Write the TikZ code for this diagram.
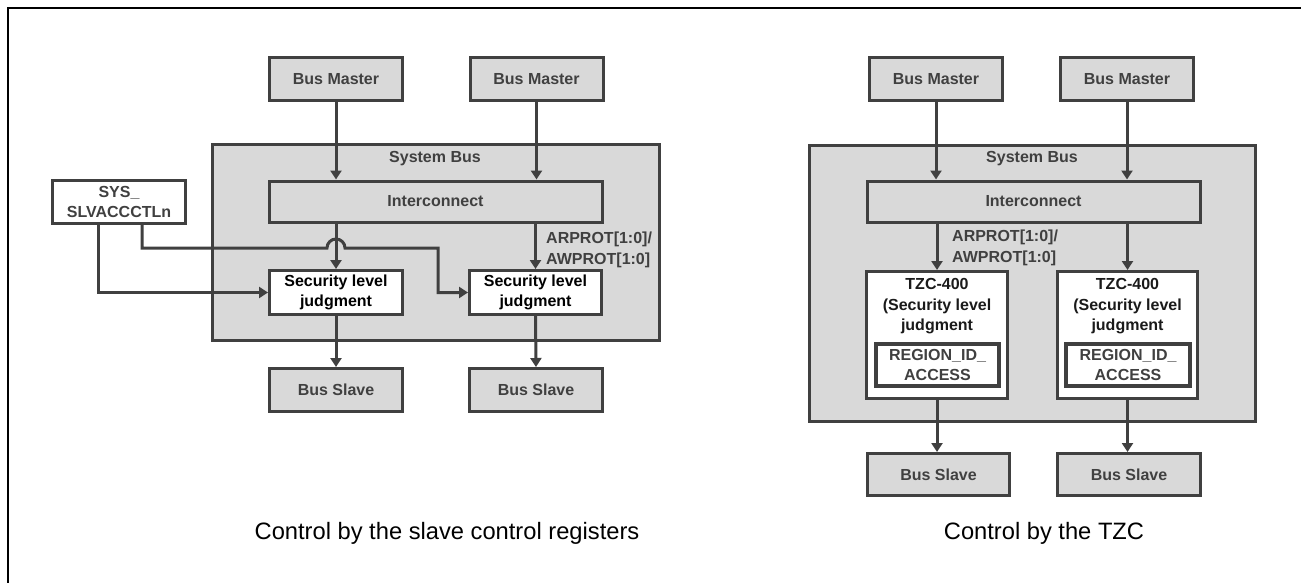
\documentclass[tikz,border=0pt]{standalone}
\usepackage{fontspec}
\setmainfont{Liberation Sans}
\usetikzlibrary{arrows.meta,calc}
\definecolor{boxfill}{HTML}{D9D9D9}
\definecolor{edge}{HTML}{404040}
\definecolor{graytext}{HTML}{404040}
\definecolor{darktext}{HTML}{1A1A1A}
\tikzset{
  boxtext/.style={font=\fontsize{16}{20.5}\selectfont\bfseries},
  graybox/.style={draw=edge, line width=3pt, fill=boxfill, rectangle, inner sep=0pt, text=graytext, boxtext, align=center},
  whitebox/.style={draw=edge, line width=3pt, fill=white, rectangle, inner sep=0pt, text=black, boxtext, align=center},
  busarea/.style={draw=edge, line width=3pt, fill=boxfill},
  arr/.style={draw=edge, line width=3pt, -{Triangle[width=11pt,length=9pt]}},
  plainline/.style={draw=edge, line width=3pt},
  lbl/.style={text=graytext, boxtext, inner sep=0pt},
  caption/.style={font=\fontsize{23.7}{28}\selectfont, text=black, inner sep=0pt}
}
\begin{document}
\begin{tikzpicture}[x=1pt,y=-1pt]
\useasboundingbox (0,0) rectangle (1301,583);
\fill[white] (0,0) rectangle (1301,583);
% frame (top and left edges)
\draw[line width=2.2pt, black] (7.8,583) -- (7.8,7.8) -- (1301,7.8);

% ================= LEFT DIAGRAM =================
\draw[busarea] (212.5,144.5) rectangle (659.5,340.5);
\node[lbl] (sbL) at (435,159) {System Bus};
\node[graybox, minimum width=133pt, minimum height=43pt] (bm1) at (336,79) {Bus Master};
\node[graybox, minimum width=133pt, minimum height=43pt] (bm2) at (536.5,79) {Bus Master};
\node[graybox, minimum width=333pt, minimum height=41pt] (icL) at (435.5,201.5) {Interconnect};
\node[whitebox, minimum width=133pt, minimum height=44pt] (slj1) at (336,292.5) {Security level\\judgment};
\node[whitebox, minimum width=132pt, minimum height=44pt] (slj2) at (535.5,292.5) {Security level\\judgment};
\node[graybox, minimum width=133pt, minimum height=43pt] (bs1) at (336,390) {Bus Slave};
\node[graybox, minimum width=133pt, minimum height=43pt] (bs2) at (536,390) {Bus Slave};
\node[whitebox, text=graytext, minimum width=133pt, minimum height=43pt] (sys) at (119,202) {SYS\_\\SLVACCCTLn};

\draw[arr] (bm1.south) -- (bm1.south |- icL.north);
\draw[arr] (bm2.south) -- (bm2.south |- icL.north);
\draw[arr] (icL.south -| slj1.north) -- (slj1.north);
\draw[arr] (icL.south -| slj2.north) -- (slj2.north);
\draw[arr] (slj1.south) -- (bs1.north);
\draw[arr] (slj2.south) -- (bs2.north);

\coordinate (s1) at (98,224);
\coordinate (s2) at (142,224);
\coordinate (h1) at (327,248);
\coordinate (t2) at (438,248);
\draw[arr] (s1) |- (slj1.west);
\draw[arr] (s2) |- (h1) arc[start angle=180, end angle=0, radius=9pt] -- (t2) |- (slj2.west);

\node[lbl, anchor=west, align=left] (apL) at (546,250) {ARPROT[1:0]/\\AWPROT[1:0]};

\node[caption, anchor=base] (capL) at (447,539) {Control by the slave control registers};

% ================= RIGHT DIAGRAM =================
\draw[busarea] (809.5,145.5) rectangle (1255.5,421.5);
\node[lbl] (sbR) at (1032,159) {System Bus};
\node[graybox, minimum width=133pt, minimum height=43pt] (bm3) at (936,79) {Bus Master};
\node[graybox, minimum width=133pt, minimum height=43pt] (bm4) at (1127,79) {Bus Master};
\node[graybox, minimum width=333pt, minimum height=41pt] (icR) at (1033.5,201.5) {Interconnect};
\node[whitebox, minimum width=141pt, minimum height=127pt] (tzc1) at (937,335) {};
\node[whitebox, minimum width=140pt, minimum height=127pt] (tzc2) at (1127.5,335) {};
\node[boxtext, text=darktext, align=center, inner sep=0pt] (tzt1) at (937,306.5) {TZC-400\\(Security level\\judgment};
\node[boxtext, text=darktext, align=center, inner sep=0pt] (tzt2) at (1127.5,306.5) {TZC-400\\(Security level\\judgment};
\node[whitebox, line width=3.6pt, text=graytext, minimum width=123pt, minimum height=42pt] (reg1) at (937.5,365) {REGION\_ID\_\\ACCESS};
\node[whitebox, line width=3.6pt, text=graytext, minimum width=124pt, minimum height=42pt] (reg2) at (1128,365) {REGION\_ID\_\\ACCESS};
\node[graybox, minimum width=142pt, minimum height=42pt] (bs3) at (938.5,474.5) {Bus Slave};
\node[graybox, minimum width=143pt, minimum height=42pt] (bs4) at (1129,474.5) {Bus Slave};

\draw[arr] (bm3.south) -- (bm3.south |- icR.north);
\draw[arr] (bm4.south) -- (bm4.south |- icR.north);
\draw[arr] (icR.south -| tzc1.north) -- (tzc1.north);
\draw[arr] (icR.south -| tzc2.north) -- (tzc2.north);
\draw[arr] (tzc1.south) -- (tzc1.south |- bs3.north);
\draw[arr] (tzc2.south) -- (tzc2.south |- bs4.north);

\node[lbl, anchor=west, align=left] (apR) at (952,248) {ARPROT[1:0]/\\AWPROT[1:0]};

\node[caption, anchor=base] (capR) at (1044,539) {Control by the TZC};
\end{tikzpicture}
\end{document}
